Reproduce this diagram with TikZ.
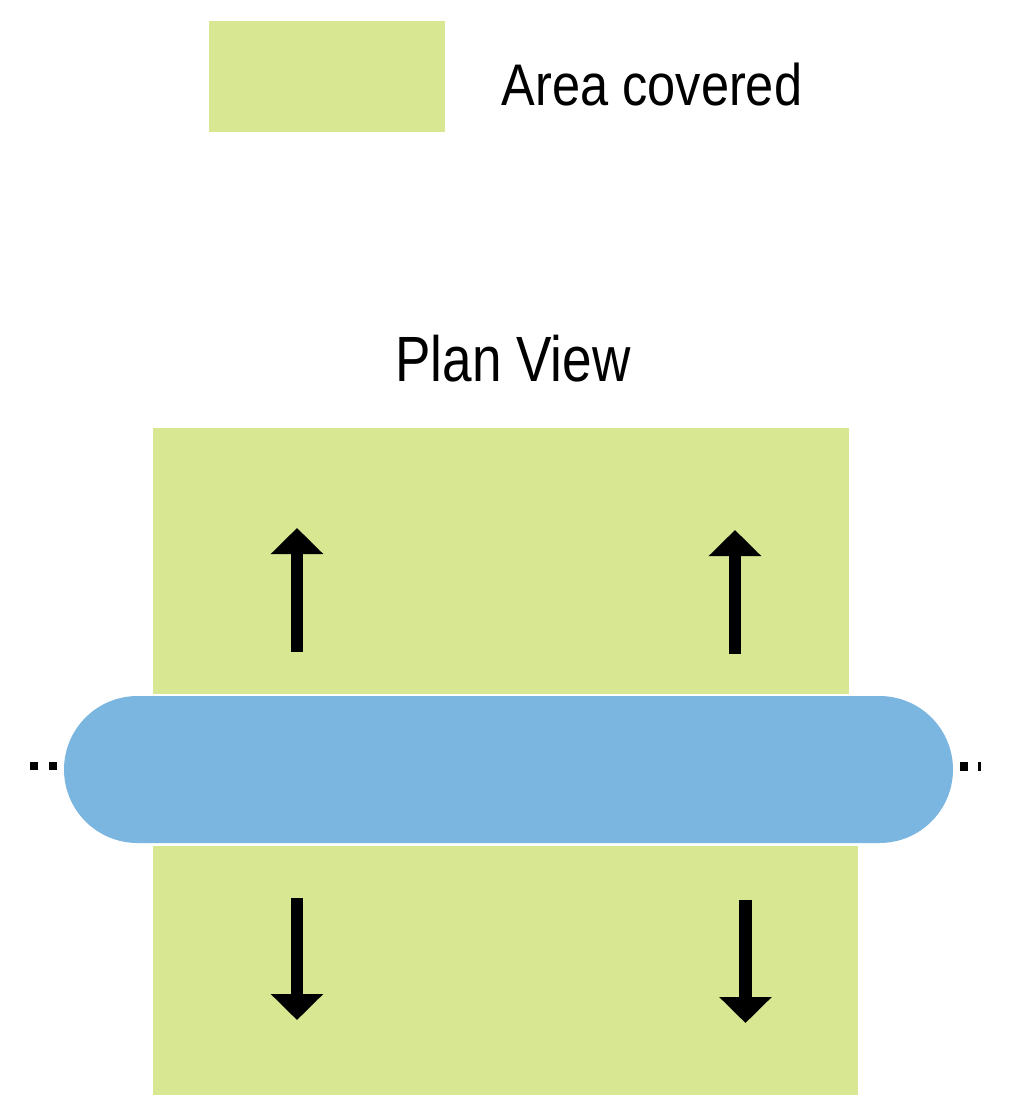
\documentclass[tikz,border=0pt]{standalone}
\usepackage{fontspec}
\setmainfont{Liberation Sans}
\usetikzlibrary{arrows.meta}

\definecolor{covered}{RGB}{216,232,146}
\definecolor{pipe}{RGB}{123,182,224}

\begin{document}
\begin{tikzpicture}[x=0.01cm, y=-0.01cm]
\useasboundingbox (0,0) rectangle (1011,1096);

% legend
\fill[covered] (209,21) rectangle (445,132);
\node[anchor=base, inner sep=0pt, font=\fontsize{16.7pt}{20pt}\selectfont] (legend) at (652,105) {\scalebox{0.86}[1]{Area covered}};

% title
\node[anchor=base, inner sep=0pt, font=\fontsize{18.2pt}{22pt}\selectfont] (title) at (513,381) {\scalebox{0.83}[1]{Plan View}};

% covered areas
\fill[covered] (153,428) rectangle (849,694);
\fill[covered] (153,846) rectangle (858,1095);

% pipe
\fill[pipe, rounded corners=0.735cm] (64,696) rectangle (953,843);

% dots either side
\begin{scope}[every path/.style={fill=black}]
    \fill (30,762) rectangle (38,770);
    \fill (49,762) rectangle (57,770);
    \fill (960,762) rectangle (968,771);
    \fill (978,762) rectangle (981,771);
\end{scope}

% arrows
\begin{scope}[>={Triangle[width=0.51cm,length=0.26cm]},
              every path/.style={draw=black, line width=0.125cm}]
    \draw[->] (297,652) -- (297,528);
    \draw[->] (735,654) -- (735,530);
    \draw[->] (297,898) -- (297,1020);
    \draw[->] (745.5,900) -- (745.5,1023);
\end{scope}
\end{tikzpicture}
\end{document}
